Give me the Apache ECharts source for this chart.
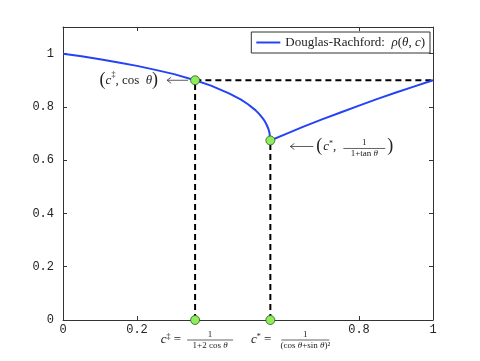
<!DOCTYPE html>
<html>
<head>
<meta charset="utf-8">
<script src="https://cdn.jsdelivr.net/npm/echarts@6/dist/echarts.min.js"></script>
<style>
  html, body { margin: 0; padding: 0; background: #fff; }
  #main { width: 480px; height: 361px; }
</style>
</head>
<body>
<div id="main"></div>
<script>
// rate curve
var cValues = [0, 0.05, 0.1, 0.15, 0.2, 0.25, 0.3, 0.357, 0.4, 0.45, 0.48, 0.5, 0.52, 0.53, 0.54, 0.545,
  0.55, 0.555, 0.558, 0.5604, 0.6, 0.65, 0.7, 0.75, 0.8, 0.85, 0.9, 0.95, 1];
var rhoValues = [1, 0.990, 0.979, 0.967, 0.954, 0.939, 0.923, 0.900, 0.880, 0.850, 0.828, 0.810, 0.788, 0.774, 0.757, 0.747,
  0.734, 0.718, 0.703, 0.674, 0.697, 0.726, 0.753, 0.779, 0.805, 0.830, 0.854, 0.877, 0.900];
// marked points
var cDag = 0.357, rhoDag = 0.9;
var cStar = 0.5604, rhoStar = 0.674;
var xTicks = [0, 0.2, 0.8, 1];
var yTicks = [0, 0.2, 0.4, 0.6, 0.8, 1];

var curve = cValues.map(function (c, i) { return [c, rhoValues[i]]; });
var blue = '#2443f5';
var green = '#8fec5c';
var ink = '#222';
var serif = '"Liberation Serif", "DejaVu Serif", serif';
var mono = '"Liberation Mono", "DejaVu Sans Mono", monospace';

var myChart = echarts.init(document.getElementById('main'));

function tick(vals) {
  return { show: true, inside: true, length: 4, lineStyle: { color: '#333' }, customValues: vals };
}
var line = { show: true, onZero: false, lineStyle: { color: '#333', width: 1 } };

myChart.setOption({
  backgroundColor: '#fff',
  animation: false,
  grid: { left: 63, right: 47, top: 27, bottom: 41, containLabel: false },
  legend: {
    data: [{ name: 'Douglas-Rachford', icon: 'rect' }],
    right: 50, top: 32,
    padding: [4, 5, 4, 5],
    itemWidth: 24, itemHeight: 2,
    backgroundColor: '#fff',
    borderColor: '#333', borderWidth: 1, borderRadius: 0,
    formatter: function () { return 'Douglas-Rachford:  {i|ρ}({i|θ}, {i|c})'; },
    textStyle: {
      fontFamily: serif, fontSize: 13, color: ink,
      rich: { i: { fontFamily: serif, fontSize: 13, fontStyle: 'italic', color: ink } }
    }
  },
  xAxis: [
    {
      type: 'value', min: 0, max: 1, interval: 0.2,
      axisLine: line, axisTick: tick(xTicks), splitLine: { show: false },
      axisLabel: {
        customValues: xTicks, margin: 4,
        fontFamily: mono, fontSize: 12, color: ink,
        formatter: function (v) { return String(v); }
      }
    },
    {
      type: 'value', min: 0, max: 1, interval: 0.2, position: 'top',
      axisLine: line, axisTick: tick(xTicks), splitLine: { show: false },
      axisLabel: { show: false }
    }
  ],
  yAxis: [
    {
      type: 'value', min: 0, max: 1.1, interval: 0.1,
      axisLine: line, axisTick: tick(yTicks), splitLine: { show: false },
      axisLabel: {
        customValues: yTicks, margin: 9,
        fontFamily: mono, fontSize: 12, color: ink,
        formatter: function (v) { return String(Math.round(v * 10) / 10); }
      }
    },
    {
      type: 'value', min: 0, max: 1.1, interval: 0.1, position: 'right',
      axisLine: line, axisTick: tick(yTicks), splitLine: { show: false },
      axisLabel: { show: false }
    }
  ],
  series: [
    {
      name: 'Douglas-Rachford', type: 'line', data: curve,
      symbol: 'none', smooth: false, z: 3,
      lineStyle: { color: blue, width: 2 }, itemStyle: { color: blue }
    },
    {
      name: 'dashDag', type: 'line', symbol: 'none', z: 2,
      data: [[cDag, 0], [cDag, rhoDag], [1, rhoDag]],
      lineStyle: { color: '#000', width: 2, type: [6, 4] }
    },
    {
      name: 'dashStar', type: 'line', symbol: 'none', z: 2,
      data: [[cStar, 0], [cStar, rhoStar]],
      lineStyle: { color: '#000', width: 2, type: [6, 4] }
    },
    {
      name: 'points', type: 'scatter', z: 5, symbolSize: 9,
      data: [[cDag, rhoDag], [cStar, rhoStar], [cDag, 0], [cStar, 0]],
      itemStyle: { color: green, borderColor: '#2d5a1a', borderWidth: 0.8, opacity: 1 }
    }
  ]
});

// math annotations, placed relative to the marked points
var rich = {
  i: { fontFamily: serif, fontStyle: 'italic', fontSize: 13, color: ink },
  s: { fontFamily: serif, fontSize: 8, color: ink, verticalAlign: 'top', padding: [0, 0, 6, 0] },
  p: { fontFamily: serif, fontSize: 18, color: '#333' }
};
var richSmall = {
  i: { fontFamily: serif, fontStyle: 'italic', fontSize: 9, color: ink },
  s: { fontFamily: serif, fontSize: 6, color: ink, verticalAlign: 'top', padding: [0, 0, 4, 0] }
};

function txt(x, y, text, align, size, r) {
  return {
    type: 'text', x: x, y: y, z: 10,
    style: {
      text: text, align: align || 'left', verticalAlign: 'middle',
      fontFamily: serif, fontSize: size || 13, fill: ink, rich: r || rich
    }
  };
}
function frac(cx, cy, num, den, w) {
  return [
    { type: 'text', x: cx, y: cy - 1, z: 10,
      style: { text: num, align: 'center', verticalAlign: 'bottom', fontFamily: serif, fontSize: 9, fill: ink, rich: richSmall } },
    { type: 'line', z: 10, shape: { x1: cx - w / 2, y1: cy, x2: cx + w / 2, y2: cy }, style: { stroke: ink, lineWidth: 0.7 } },
    { type: 'text', x: cx, y: cy + 1, z: 10,
      style: { text: den, align: 'center', verticalAlign: 'top', fontFamily: serif, fontSize: 9, fill: ink, rich: richSmall } }
  ];
}
function arrow(x1, x2, y) {
  return [
    { type: 'line', z: 10, shape: { x1: x1, y1: y, x2: x2, y2: y }, style: { stroke: '#333', lineWidth: 0.8 } },
    { type: 'polyline', z: 10, shape: { points: [[x1 + 4, y - 3], [x1, y], [x1 + 4, y + 3]] }, style: { stroke: '#333', lineWidth: 0.8, fill: null } }
  ];
}

var pD = myChart.convertToPixel({ gridIndex: 0 }, [cDag, rhoDag]);
var pS = myChart.convertToPixel({ gridIndex: 0 }, [cStar, rhoStar]);
var pD0 = myChart.convertToPixel({ gridIndex: 0 }, [cDag, 0]);
var pS0 = myChart.convertToPixel({ gridIndex: 0 }, [cStar, 0]);

var g = [];
// (c‡, cos θ) ⟵
g.push(txt(pD[0] - 37, pD[1], '{p|(}{i|c}{s|‡}, cos  {i|θ}{p|)}', 'right'));
g = g.concat(arrow(pD[0] - 28, pD[0] - 7, pD[1]));
// ⟵ (c*, 1/(1+tan θ))
var ay = pS[1] + 6;
g = g.concat(arrow(pS[0] + 20, pS[0] + 43, ay));
g.push(txt(pS[0] + 46, ay, '{p|(}', 'left'));
g.push(txt(pS[0] + 53, ay, '{i|c}{s|*},', 'left'));
g = g.concat(frac(pS[0] + 94, ay + 2, '1', '1+tan {i|θ}', 42));
g.push(txt(pS[0] + 117, ay, '{p|)}', 'left'));
// bottom labels
var by = pD0[1] + 20;
g.push(txt(pD0[0] - 14, by, '{i|c}{s|‡} =', 'right'));
g = g.concat(frac(pD0[0] + 15, by, '1', '1+2 cos {i|θ}', 46));
g.push(txt(pS0[0] + 1, by, '{i|c}{s|*} =', 'right'));
g = g.concat(frac(pS0[0] + 35, by, '1', '(cos {i|θ}+sin {i|θ})²', 48));

myChart.setOption({ graphic: g });
</script>
</body>
</html>
